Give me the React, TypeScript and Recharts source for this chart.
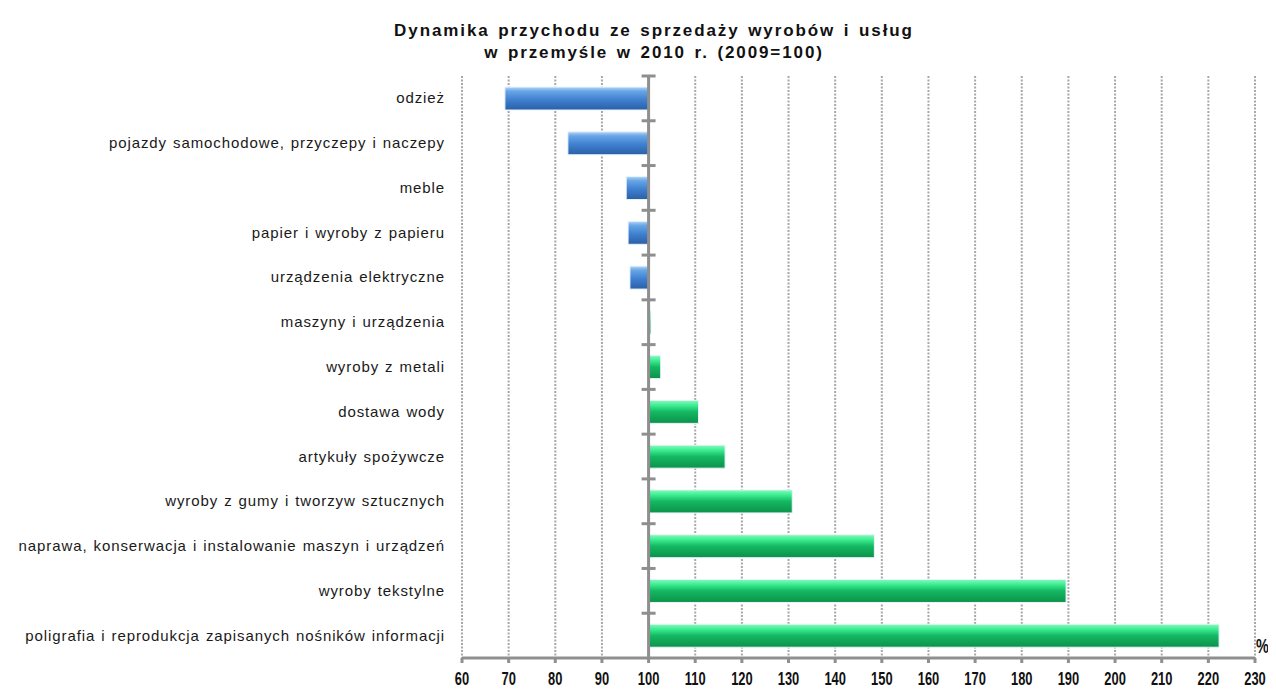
import React from "react";
import {
  BarChart,
  Bar,
  XAxis,
  YAxis,
  CartesianGrid,
  ReferenceLine,
  Cell,
} from "recharts";

const categories = [
  "odzież",
  "pojazdy samochodowe, przyczepy i naczepy",
  "meble",
  "papier i wyroby z papieru",
  "urządzenia elektryczne",
  "maszyny i urządzenia",
  "wyroby z metali",
  "dostawa wody",
  "artykuły spożywcze",
  "wyroby z gumy i tworzyw sztucznych",
  "naprawa, konserwacja i instalowanie maszyn i urządzeń",
  "wyroby tekstylne",
  "poligrafia i reprodukcja zapisanych nośników informacji",
];

const values = [69.2, 82.7, 95.2, 95.6, 96.0, 100.5, 102.6, 110.7, 116.4, 130.8, 148.4, 189.5, 222.3];

const xTicks = [60, 70, 80, 90, 100, 110, 120, 130, 140, 150, 160, 170, 180, 190, 200, 210, 220, 230];

const BASE = 100;

const data = categories.map((name, i) => ({
  name,
  value: values[i],
  range: values[i] < BASE ? [values[i], BASE] : [BASE, values[i]],
}));

const FONT = "'Liberation Sans', Arial, sans-serif";
const GREY = "#8f8f8f";

function CategoryTick(props: any) {
  const { x, y, payload } = props;
  return (
    <text
      x={x}
      y={y}
      dy={5}
      textAnchor="end"
      fontSize={15}
      fill="#1a1a1a"
      fontFamily={FONT}
      letterSpacing={0.9}
      wordSpacing={1}
    >
      {payload.value}
    </text>
  );
}

// condensed bold numbers like the original axis font
function ValueTick(props: any) {
  const { x, y, payload } = props;
  return (
    <text
      transform={`translate(${x},${y}) scale(0.86,1.18)`}
      dy={12}
      textAnchor="middle"
      fontSize={15}
      fontWeight="bold"
      fill="#111"
      fontFamily={FONT}
    >
      {payload.value}
    </text>
  );
}

export default function App() {
  // negative margin cancels the body margin so the chart fills the window exactly
  return (
    <div style={{ position: "relative", margin: -8, width: 1276, height: 693, fontFamily: FONT }}>
      <BarChart
        width={1276}
        height={693}
        layout="vertical"
        data={data}
        margin={{ top: 76, right: 21, bottom: 0, left: 0 }}
        barSize={23}
      >
        <defs>
          <linearGradient id="gBlue" x1="0" y1="0" x2="0" y2="1">
            <stop offset="0%" stopColor="#b5d6f7" />
            <stop offset="18%" stopColor="#68a6e6" />
            <stop offset="55%" stopColor="#3f80d0" />
            <stop offset="100%" stopColor="#2a5fa6" />
          </linearGradient>
          <linearGradient id="gGreen" x1="0" y1="0" x2="0" y2="1">
            <stop offset="0%" stopColor="#8cf7bd" />
            <stop offset="20%" stopColor="#3ff094" />
            <stop offset="50%" stopColor="#14b862" />
            <stop offset="100%" stopColor="#0c914a" />
          </linearGradient>
        </defs>
        <CartesianGrid
          horizontal={false}
          vertical
          stroke="#a8a8a8"
          strokeWidth={2}
          strokeDasharray="2 1.5"
        />
        <XAxis
          type="number"
          domain={[60, 230]}
          ticks={xTicks}
          allowDataOverflow
          height={35}
          axisLine={{ stroke: GREY, strokeWidth: 3 }}
          tickLine={{ stroke: GREY, strokeWidth: 3 }}
          tickSize={5}
          tickMargin={8}
          tick={<ValueTick />}
          interval={0}
        />
        <YAxis
          type="category"
          dataKey="name"
          width={462}
          axisLine={false}
          tickLine={false}
          tickSize={0}
          tickMargin={17}
          interval={0}
          tick={<CategoryTick />}
        />
        <Bar dataKey="range" isAnimationActive={false} stroke="#e8f4ff" strokeWidth={1}>
          {data.map((d, i) => (
            <Cell key={i} fill={d.value < BASE ? "url(#gBlue)" : "url(#gGreen)"} />
          ))}
        </Bar>
        <ReferenceLine x={BASE} stroke={GREY} strokeWidth={3} />
        {categories.map((c) => (
          <ReferenceLine
            key={c}
            segment={[
              { x: BASE - 1.5, y: c },
              { x: BASE + 1.5, y: c },
            ]}
            position="start"
            stroke={GREY}
            strokeWidth={3}
          />
        ))}
      </BarChart>
      <div
        style={{
          position: "absolute",
          left: 154,
          width: 1000,
          top: 20,
          textAlign: "center",
          fontWeight: "bold",
          fontSize: 17,
          lineHeight: "22px",
          letterSpacing: 1.9,
          wordSpacing: 2,
          color: "#111",
          zIndex: 2,
        }}
      >
        Dynamika przychodu ze sprzedaży wyrobów i usług
        <br />w przemyśle w 2010 r. (2009=100)
      </div>
      <div
        style={{
          position: "absolute",
          left: 1256,
          top: 636,
          fontWeight: "bold",
          fontSize: 17,
          lineHeight: "17px",
          transform: "scale(0.85,1.2)",
          transformOrigin: "left top",
          color: "#111",
          zIndex: 2,
        }}
      >
        %
      </div>
    </div>
  );
}
